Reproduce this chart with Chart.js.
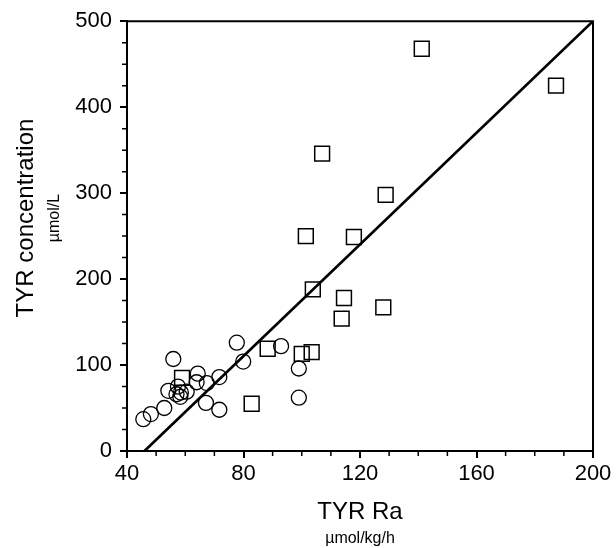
<!DOCTYPE html>
<html>
<head>
<meta charset="utf-8">
<script src="https://cdn.jsdelivr.net/npm/chart.js@4"></script>
<style>
  html, body { margin: 0; padding: 0; background: #fff; }
  #wrap { width: 616px; height: 548px; }
</style>
</head>
<body>
<div id="wrap"><canvas id="tyrChart" width="616" height="548"></canvas></div>
<script>
// === Données ===
const circleX = [45.6, 48.2, 52.8, 55.9, 54.2, 57.5, 58.5, 58.3, 60.5, 57.0, 64.3, 63.9, 67.4, 67.1, 71.7, 71.7, 77.7, 79.9, 92.9, 99.0, 99.0];
const circleY = [37, 43, 50, 107, 70, 75, 68, 63, 69, 66, 90, 80, 79, 56, 86, 48, 126, 104, 122, 96, 62];
const squareX = [141.2, 187.3, 107.0, 128.8, 101.4, 117.9, 103.8, 114.5, 128.0, 113.7, 88.3, 100.0, 103.4, 82.8, 58.9];
const squareY = [468, 425, 346, 298, 250, 249, 188, 178, 167, 154, 119, 113, 115, 55, 85];
const lineX = [46, 200];
const lineY = [0, 500];
const xTicks = [40, 80, 120, 160, 200];
const yTicks = [0, 100, 200, 300, 400, 500];

const toPoints = (xs, ys) => xs.map((x, i) => ({ x: x, y: ys[i] }));
const FONT = "'Liberation Sans', Arial, sans-serif";

// cadre, graduations mineures et titres d'axes
const decorPlugin = {
    id: 'decor',
    afterDraw(chart) {
        const ctx = chart.ctx;
        const a = chart.chartArea;
        const xs = chart.scales.x, ys = chart.scales.y;
        ctx.save();
        ctx.strokeStyle = '#000';
        ctx.lineWidth = 2;
        ctx.beginPath();
        ctx.moveTo(a.left, a.top);
        ctx.lineTo(a.right, a.top);
        ctx.lineTo(a.right, a.bottom);
        ctx.stroke();

        ctx.lineWidth = 1.5;
        ctx.beginPath();
        for (let v = 40; v <= 200; v += 10) {
            if (v % 40 === 0) continue;
            const px = xs.getPixelForValue(v);
            ctx.moveTo(px, a.bottom);
            ctx.lineTo(px, a.bottom + 5);
        }
        for (let v = 0; v <= 500; v += 25) {
            if (v % 100 === 0) continue;
            const py = ys.getPixelForValue(v);
            ctx.moveTo(a.left, py);
            ctx.lineTo(a.left - 5, py);
        }
        ctx.stroke();

        ctx.fillStyle = '#000';
        ctx.textAlign = 'center';
        ctx.textBaseline = 'middle';
        const cx = (a.left + a.right) / 2;
        ctx.font = '24px ' + FONT;
        ctx.fillText('TYR Ra', cx, 512);
        ctx.font = '16px ' + FONT;
        ctx.fillText('µmol/kg/h', cx, 539);

        ctx.translate(26, 218);
        ctx.rotate(-Math.PI / 2);
        ctx.font = '24px ' + FONT;
        ctx.fillText('TYR concentration', 0, 0);
        ctx.font = '16px ' + FONT;
        ctx.fillText('µmol/L', 0, 29);
        ctx.restore();
    }
};

new Chart(document.getElementById('tyrChart').getContext('2d'), {
    type: 'scatter',
    data: {
        datasets: [
            {
                label: 'circles',
                data: toPoints(circleX, circleY),
                pointStyle: 'circle',
                pointRadius: 7.5,
                pointBorderWidth: 1.3,
                pointBorderColor: '#000',
                pointBackgroundColor: 'rgba(0,0,0,0)'
            },
            {
                label: 'squares',
                data: toPoints(squareX, squareY),
                pointStyle: 'rect',
                pointRadius: 10.5,
                pointBorderWidth: 1.5,
                pointBorderColor: '#000',
                pointBackgroundColor: 'rgba(0,0,0,0)'
            },
            {
                type: 'line',
                label: 'line',
                data: toPoints(lineX, lineY),
                borderColor: '#000',
                borderWidth: 2.7,
                pointRadius: 0,
                fill: false
            }
        ]
    },
    options: {
        responsive: false,
        animation: false,
        layout: { padding: { top: 21, right: 23, left: 0, bottom: 0 } },
        plugins: { legend: { display: false }, tooltip: { enabled: false } },
        scales: {
            x: {
                type: 'linear',
                min: 40, max: 200,
                afterBuildTicks: s => { s.ticks = xTicks.map(v => ({ value: v })); },
                afterFit: s => { s.height = 97; },
                grid: { drawOnChartArea: false, drawTicks: true, tickLength: 7, color: '#000', lineWidth: 2 },
                border: { display: true, color: '#000', width: 2 },
                ticks: { color: '#000', font: { family: FONT, size: 22 }, padding: 3, maxRotation: 0 }
            },
            y: {
                type: 'linear',
                min: 0, max: 500,
                afterBuildTicks: s => { s.ticks = yTicks.map(v => ({ value: v })); },
                afterFit: s => { s.width = 127; },
                grid: { drawOnChartArea: false, drawTicks: true, tickLength: 7, color: '#000', lineWidth: 2 },
                border: { display: true, color: '#000', width: 2 },
                ticks: { color: '#000', font: { family: FONT, size: 22 }, padding: 8 }
            }
        }
    },
    plugins: [decorPlugin]
});
</script>
</body>
</html>
